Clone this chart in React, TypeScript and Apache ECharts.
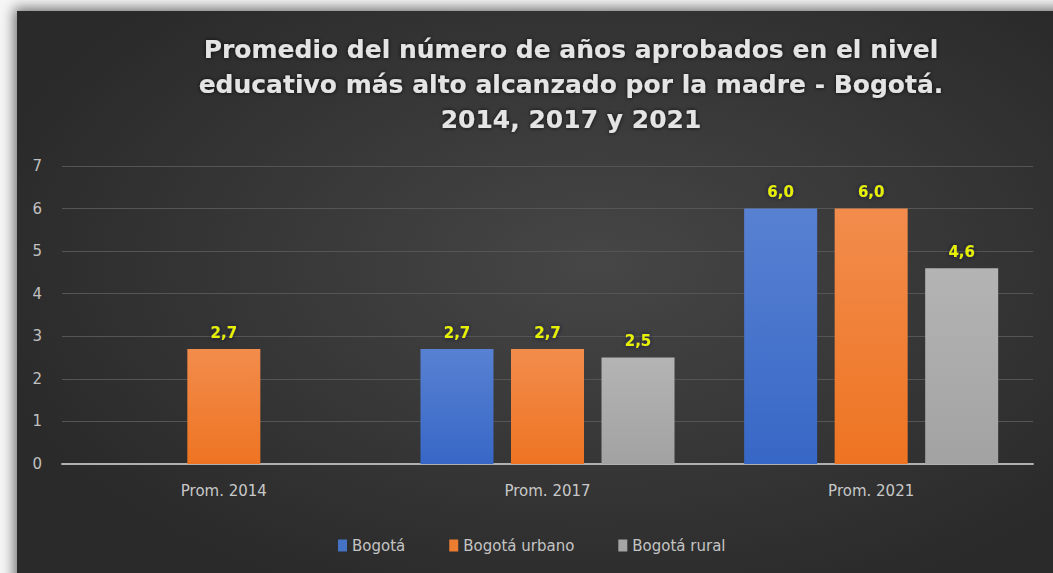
import React, { useEffect, useRef } from "react";
import * as echarts from "echarts";

const categories = ["Prom. 2014", "Prom. 2017", "Prom. 2021"];
const seriesNames = ["Bogotá", "Bogotá urbano", "Bogotá rural"];
const bogota = [null, 2.7, 6.0];
const bogotaUrbano = [2.7, 2.7, 6.0];
const bogotaRural = [null, 2.5, 4.6];
const titleLines = [
  "Promedio del número de años aprobados en el nivel",
  "educativo más alto alcanzado por la madre - Bogotá.",
  "2014, 2017 y 2021",
];

const grad = (top: string, bottom: string) =>
  new echarts.graphic.LinearGradient(0, 0, 0, 1, [
    { offset: 0, color: top },
    { offset: 1, color: bottom },
  ]);

export default function App() {
  const ref = useRef<HTMLDivElement>(null);
  useEffect(() => {
    if (!ref.current) return;
    const chart = echarts.init(ref.current, null, { renderer: "svg" });
    const label = {
      show: true,
      position: "top",
      distance: 9,
      color: "#e6f000",
      fontWeight: "bold",
      fontSize: 15,
      fontFamily: "DejaVu Sans",
      textShadowColor: "rgba(20,20,60,0.9)",
      textShadowBlur: 4,
      formatter: (p: any) => Number(p.value).toFixed(1).replace(".", ","),
    };
    const colors = [
      grad("#5881d2", "#3767c6"),
      grad("#f28c4c", "#ee7422"),
      grad("#b4b4b4", "#a2a2a2"),
    ];
    const legendColors = ["#4472c4", "#ed7d31", "#a5a5a5"];
    const dataSets = [bogota, bogotaUrbano, bogotaRural];
    chart.setOption({
      animation: false,
      backgroundColor: "transparent",
      graphic: titleLines.map((t, i) => ({
        type: "text",
        x: 571,
        y: 49 + i * 35,
        style: {
          text: t,
          fill: "#e4e4e4",
          font: "bold 25px 'DejaVu Sans'",
          textAlign: "center",
          textVerticalAlign: "middle",
          textShadowColor: "rgba(0,0,0,0.8)",
          textShadowBlur: 4,
        },
      })),
      grid: { left: 62, right: 20, top: 166, bottom: 109 },
      legend: {
        left: 333,
        top: 533,
        icon: "rect",
        itemWidth: 9,
        itemHeight: 12,
        itemGap: 44,
        textStyle: { color: "#c4c4c4", fontSize: 15, fontFamily: "DejaVu Sans" },
        data: seriesNames.map((n, i) => ({ name: n, itemStyle: { color: legendColors[i] } })),
      },
      xAxis: {
        type: "category",
        data: categories,
        axisLine: { lineStyle: { color: "#b0b0b0", width: 2 } },
        axisTick: { show: false },
        axisLabel: { color: "#c8c8c8", fontSize: 15, fontFamily: "DejaVu Sans", margin: 19 },
      },
      yAxis: {
        type: "value",
        min: 0,
        max: 7,
        interval: 1,
        axisLine: { show: false },
        axisTick: { show: false },
        axisLabel: { color: "#c0c0c0", fontSize: 15, fontFamily: "DejaVu Sans", margin: 20 },
        splitLine: { lineStyle: { color: "#555555", width: 1 } },
      },
      series: dataSets.map((d, i) => ({
        name: seriesNames[i],
        type: "bar",
        data: d,
        barWidth: 73,
        barGap: "24%",
        itemStyle: { color: colors[i] },
        label,
      })),
    });
    return () => chart.dispose();
  }, []);
  return (
    <div
      style={{
        position: "fixed",
        left: 0,
        top: 0,
        width: 1053,
        height: 573,
        background: "#f6f6f6",
        overflow: "hidden",
      }}
    >
      <div
        style={{
          position: "absolute",
          left: 17,
          top: 11,
          width: 1053,
          height: 600,
          background: "radial-gradient(ellipse 60% 60% at 55% 42%, #464646 0%, #383838 50%, #2a2a2a 100%)",
          boxShadow: "0 0 12px 3px rgba(0,0,0,0.55)",
        }}
      />
      <div ref={ref} style={{ position: "absolute", left: 0, top: 0, width: 1053, height: 573 }} />
    </div>
  );
}
